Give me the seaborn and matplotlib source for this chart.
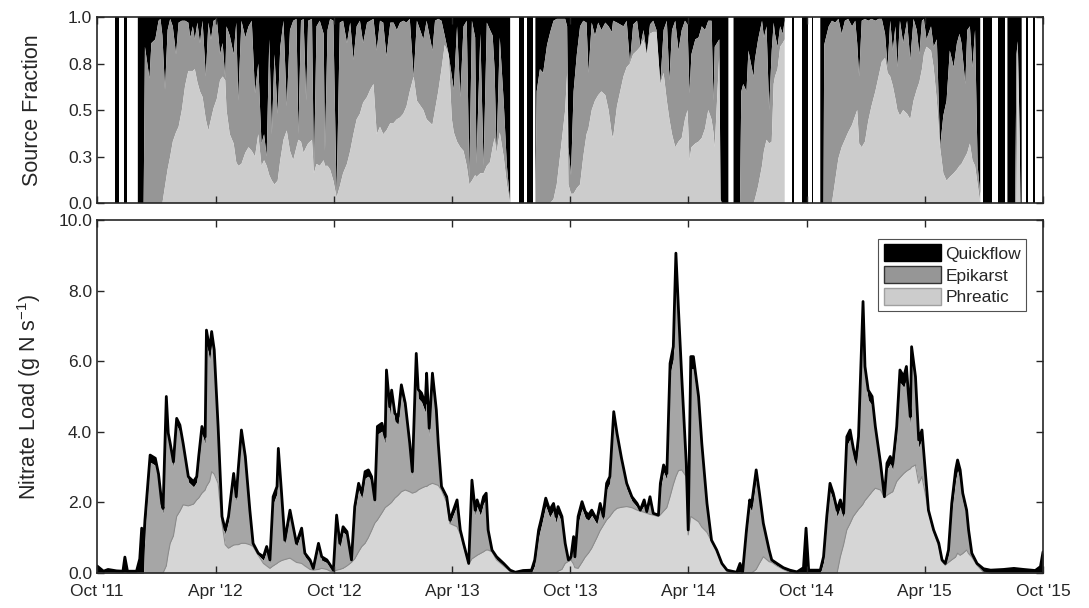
import numpy as np
import pandas as pd
import matplotlib
matplotlib.use("Agg")
import matplotlib.pyplot as plt
import matplotlib.dates as mdates
from matplotlib.patches import Patch
import seaborn as sns

NA = np.nan
START = pd.Timestamp("2011-10-01")
END = pd.Timestamp("2015-10-01")

# Bottom panel: nitrate load (g N s^-1); day = days since 1 Oct 2011.
load_day = [
    0, 10, 17, 30, 40, 43, 47, 61, 66, 69, 72, 74,
    82, 90, 95, 100, 102, 107, 110, 113, 118, 123, 128, 133,
    141, 149, 154, 157, 162, 167, 169, 174, 177, 181, 187, 193,
    198, 203, 211, 215, 218, 223, 229, 236, 241, 249, 257, 262,
    267, 272, 278, 280, 285, 290, 298, 304, 308, 316, 321, 329,
    334, 342, 347, 355, 360, 365, 370, 375, 380, 386, 393, 398,
    404, 409, 414, 419, 424, 429, 433, 440, 445, 447, 452, 455,
    460, 465, 470, 476, 483, 487, 493, 496, 501, 507, 509, 513,
    518, 524, 527, 532, 540, 545, 556, 561, 566, 574, 579, 584,
    587, 592, 597, 601, 604, 610, 617, 628, 638, 646, 658, 671,
    676, 682, 687, 693, 699, 705, 709, 712, 718, 723, 728, 732,
    736, 738, 743, 749, 754, 759, 764, 772, 777, 782, 787, 792,
    798, 803, 810, 818, 826, 834, 839, 845, 849, 854, 859, 867,
    870, 875, 880, 885, 890, 894, 898, 903, 910, 913, 917, 921,
    929, 934, 942, 949, 957, 965, 973, 988, 993, 997, 1003, 1008,
    1011, 1018, 1023, 1029, 1038, 1042, 1050, 1060, 1070, 1081, 1091, 1095,
    1099, 1106, 1117, 1122, 1127, 1132, 1137, 1143, 1148, 1153, 1158, 1163,
    1168, 1172, 1176, 1180, 1183, 1186, 1191, 1197, 1202, 1210, 1216, 1220,
    1225, 1229, 1235, 1240, 1246, 1250, 1253, 1256, 1258, 1264, 1269, 1274,
    1279, 1284, 1292, 1300, 1305, 1310, 1315, 1320, 1326, 1329, 1333, 1337,
    1343, 1346, 1351, 1359, 1369, 1380, 1400, 1416, 1431, 1449, 1457, 1461,
]
load_total = [
    0.20, 0.05, 0.10, 0.06, 0.05, 0.45, 0.05, 0.05, 0.40, 1.27, 0.90, 1.50,
    3.34, 3.25, 2.80, 1.97, 1.83, 5.00, 3.96, 3.67, 3.15, 4.38, 4.19, 3.67,
    2.73, 2.59, 2.73, 3.30, 4.15, 3.86, 6.88, 6.32, 6.84, 6.32, 4.15, 1.60,
    1.22, 1.60, 2.82, 2.16, 2.92, 4.05, 3.30, 1.78, 0.84, 0.56, 0.46, 0.75,
    0.37, 2.16, 2.45, 3.53, 2.26, 0.93, 1.78, 1.22, 0.84, 1.27, 0.56, 0.37,
    0.13, 0.84, 0.46, 0.37, 0.23, 0.08, 1.64, 0.84, 1.31, 1.17, 0.37, 1.88,
    2.54, 2.26, 2.87, 2.92, 2.73, 2.07, 4.15, 4.24, 3.86, 5.75, 4.71, 5.18,
    4.52, 4.43, 5.33, 4.81, 3.67, 2.87, 6.22, 5.20, 5.10, 4.80, 5.66, 4.10,
    5.66, 4.62, 3.67, 2.45, 2.16, 1.50, 2.07, 1.22, 0.84, 0.27, 2.63, 1.78,
    2.07, 1.78, 2.16, 2.26, 1.22, 0.65, 0.46, 0.27, 0.08, 0.02, 0.07, 0.08,
    0.37, 1.22, 1.60, 2.12, 1.78, 1.97, 1.60, 1.88, 1.60, 0.84, 0.37, 0.46,
    1.03, 0.46, 1.60, 2.02, 1.74, 1.64, 1.78, 1.50, 1.97, 1.60, 2.54, 2.73,
    4.57, 3.96, 3.25, 2.54, 2.16, 1.97, 1.78, 2.07, 1.74, 2.16, 1.69, 1.64,
    2.54, 3.06, 2.82, 5.94, 6.41, 9.06, 7.45, 5.56, 3.11, 1.22, 6.13, 6.13,
    5.00, 3.67, 1.97, 0.93, 0.65, 0.27, 0.08, 0.02, 0.27, 0.02, 1.22, 2.07,
    1.95, 2.92, 2.26, 1.41, 0.65, 0.37, 0.27, 0.15, 0.08, 0.03, 0.15, 1.27,
    0.08, 0.08, 0.08, 0.46, 1.60, 2.54, 2.26, 1.78, 2.07, 1.69, 3.86, 4.05,
    3.53, 3.20, 3.86, 6.03, 7.69, 5.85, 5.18, 5.00, 4.15, 3.11, 2.16, 3.11,
    3.30, 3.10, 4.15, 5.75, 5.56, 5.85, 5.09, 4.43, 6.41, 5.56, 3.77, 4.05,
    2.92, 1.78, 1.22, 0.84, 0.37, 0.27, 0.65, 1.97, 2.92, 3.20, 2.92, 2.26,
    1.78, 1.22, 0.56, 0.27, 0.12, 0.08, 0.10, 0.13, 0.10, 0.07, 0.18, 0.60,
]
load_phreatic = [
    0, 0, 0, 0, 0, 0, 0, 0, 0, 0, 0, 0,
    0, 0, 0, 0, 0, 0.20, 0.55, 0.84, 1.05, 1.60, 1.75, 1.93,
    1.90, 1.95, 2.07, 2.12, 2.26, 2.35, 2.45, 2.60, 2.87, 2.80, 2.54, 1.40,
    0.80, 0.70, 0.79, 0.80, 0.80, 0.84, 0.84, 0.80, 0.75, 0.50, 0.27, 0.20,
    0.13, 0.20, 0.27, 0.30, 0.35, 0.38, 0.42, 0.35, 0.30, 0.27, 0.20, 0.10,
    0.08, 0.10, 0.13, 0.10, 0.05, 0.04, 0.08, 0.10, 0.13, 0.20, 0.30, 0.40,
    0.60, 0.75, 0.84, 1.00, 1.20, 1.41, 1.50, 1.70, 1.85, 1.88, 1.95, 2.00,
    2.12, 2.20, 2.30, 2.35, 2.30, 2.26, 2.30, 2.35, 2.40, 2.45, 2.45, 2.50,
    2.54, 2.50, 2.48, 2.35, 2.00, 1.40, 1.31, 1.10, 0.78, 0.25, 0.40, 0.46,
    0.50, 0.55, 0.60, 0.65, 0.65, 0.60, 0.37, 0.20, 0.05, 0, 0, 0,
    0, 0, 0, 0, 0, 0, 0, 0.05, 0.10, 0.27, 0.33, 0.37,
    0.25, 0.15, 0.13, 0.30, 0.45, 0.56, 0.70, 1.00, 1.20, 1.35, 1.50, 1.60,
    1.75, 1.83, 1.86, 1.88, 1.85, 1.78, 1.75, 1.72, 1.69, 1.66, 1.64, 1.60,
    1.65, 1.75, 1.85, 2.16, 2.50, 2.73, 2.90, 2.92, 2.73, 1.08, 1.60, 1.55,
    1.45, 1.30, 1.15, 0.90, 0.62, 0.25, 0.05, 0, 0, 0, 0, 0,
    0, 0.10, 0.27, 0.46, 0.32, 0.30, 0.20, 0.10, 0.02, 0, 0, 0,
    0, 0, 0, 0, 0, 0, 0, 0, 0.46, 0.80, 1.22, 1.40,
    1.60, 1.70, 1.80, 1.88, 1.95, 2.05, 2.16, 2.30, 2.40, 2.35, 2.14, 2.20,
    2.26, 2.30, 2.59, 2.70, 2.82, 2.88, 2.92, 2.95, 3.00, 3.06, 2.54, 2.73,
    2.26, 1.74, 1.18, 0.75, 0.33, 0.22, 0.30, 0.37, 0.45, 0.56, 0.50, 0.55,
    0.65, 0.55, 0.45, 0.22, 0.02, 0, 0, 0, 0, 0, 0, 0,
]
load_quickflow = [
    0.20, 0.05, 0.10, 0.06, 0.05, 0.45, 0.05, 0.05, 0.40, 1.27, 0.90, 0.30,
    0.20, 0.20, 0.15, 0.15, 0.15, 0.25, 0.20, 0.20, 0.15, 0.20, 0.20, 0.20,
    0.15, 0.15, 0.15, 0.20, 0.20, 0.20, 0.35, 0.30, 0.35, 0.30, 0.20, 0.15,
    0.12, 0.12, 0.15, 0.15, 0.15, 0.20, 0.20, 0.12, 0.08, 0.06, 0.10, 0.12,
    0.10, 0.20, 0.20, 0.25, 0.20, 0.12, 0.15, 0.12, 0.10, 0.12, 0.10, 0.08,
    0.05, 0.12, 0.10, 0.08, 0.08, 0.04, 0.15, 0.12, 0.15, 0.12, 0.06, 0.15,
    0.18, 0.15, 0.18, 0.18, 0.15, 0.12, 0.22, 0.22, 0.20, 0.30, 0.25, 0.25,
    0.22, 0.22, 0.25, 0.25, 0.20, 0.15, 0.30, 0.25, 0.25, 0.25, 0.30, 0.22,
    0.30, 0.25, 0.20, 0.10, 0.12, 0.10, 0.15, 0.10, 0.06, 0.02, 0.20, 0.15,
    0.18, 0.15, 0.18, 0.18, 0.12, 0.05, 0.08, 0.07, 0.03, 0.02, 0.07, 0.08,
    0.15, 0.20, 0.20, 0.22, 0.20, 0.20, 0.18, 0.20, 0.18, 0.12, 0.04, 0.09,
    0.15, 0.12, 0.18, 0.20, 0.18, 0.15, 0.15, 0.12, 0.15, 0.12, 0.18, 0.18,
    0.22, 0.20, 0.18, 0.15, 0.12, 0.10, 0.03, 0.15, 0.05, 0.15, 0.05, 0.04,
    0.18, 0.20, 0.18, 0.30, 0.35, 0.45, 0.40, 0.30, 0.15, 0.10, 0.35, 0.35,
    0.30, 0.22, 0.15, 0.03, 0.03, 0.02, 0.03, 0.02, 0.27, 0.02, 0.15, 0.20,
    0.20, 0.25, 0.20, 0.15, 0.10, 0.05, 0.06, 0.05, 0.06, 0.03, 0.15, 1.27,
    0.08, 0.08, 0.08, 0.15, 0.18, 0.22, 0.20, 0.18, 0.20, 0.15, 0.25, 0.25,
    0.22, 0.20, 0.22, 0.35, 0.40, 0.30, 0.28, 0.25, 0.22, 0.15, 0.02, 0.18,
    0.20, 0.18, 0.25, 0.35, 0.30, 0.35, 0.30, 0.25, 0.35, 0.30, 0.22, 0.25,
    0.20, 0.04, 0.04, 0.09, 0.04, 0.05, 0.12, 0.22, 0.28, 0.30, 0.28, 0.22,
    0.18, 0.15, 0.08, 0.05, 0.10, 0.08, 0.10, 0.13, 0.10, 0.07, 0.18, 0.60,
]

# Top panel: source fractions (NA = no data, left white).
frac_day = [
    0, 27, 34.5, 38, 42, 46, 50, 63,
    72, 74, 81, 84, 90, 95, 98, 101,
    105, 109, 113, 117, 122, 126, 131, 136,
    141, 144, 148, 151, 155, 159, 163, 168,
    172, 176, 180, 185, 190, 194, 198, 200,
    205, 211, 215, 218, 223, 229, 234, 239,
    244, 249, 254, 258, 262, 266, 270, 274,
    279, 283, 288, 293, 298, 303, 308, 311,
    315, 319, 323, 326, 332, 335, 339, 344,
    350, 352, 356, 360, 365, 370, 375, 380,
    386, 391, 396, 401, 406, 411, 417, 422,
    427, 432, 437, 442, 447, 453, 458, 463,
    468, 473, 478, 483, 489, 494, 504, 509,
    518, 522, 527, 532, 537, 543, 548, 551,
    556, 561, 566, 571, 575, 579, 584, 586,
    592, 597, 602, 607, 611, 614, 617, 622,
    628, 633, 638, 640, 651, 660, 661, 664,
    674, 675, 677, 679, 684, 689, 695, 700,
    705, 710, 715, 723, 726, 728, 732, 736,
    741, 746, 751, 756, 759, 764, 769, 774,
    779, 785, 790, 795, 797, 803, 808, 813,
    818, 823, 828, 834, 839, 844, 849, 854,
    859, 864, 870, 875, 880, 884, 888, 893,
    898, 903, 908, 912, 915, 918, 924, 929,
    934, 939, 944, 949, 952, 954, 961, 963,
    965, 975, 976, 983, 993, 995, 998, 1003,
    1006, 1011, 1014, 1016, 1021, 1027, 1030, 1034,
    1038, 1042, 1045, 1047, 1051, 1055, 1059, 1062,
    1063, 1074, 1076, 1077, 1088, 1098, 1099, 1104,
    1106, 1107, 1117, 1122, 1123, 1130, 1135, 1140,
    1145, 1150, 1155, 1160, 1166, 1171, 1174, 1177,
    1181, 1186, 1191, 1196, 1202, 1207, 1212, 1217,
    1221, 1225, 1229, 1233, 1236, 1240, 1245, 1251,
    1256, 1261, 1266, 1270, 1274, 1277, 1281, 1288,
    1292, 1297, 1302, 1307, 1312, 1317, 1323, 1328,
    1332, 1335, 1341, 1344, 1348, 1352, 1356, 1360,
    1364, 1365, 1369, 1382, 1383, 1391, 1402, 1403,
    1406, 1418, 1420, 1422, 1425, 1426, 1428, 1429,
    1435, 1438, 1439, 1445, 1449, 1450, 1461,
]
frac_phreatic = [
    NA, 0, 0, NA, 0, 0, NA, 0,
    0, 0, 0, 0, 0, 0, 0, 0,
    0.09, 0.18, 0.25, 0.33, 0.38, 0.41, 0.50, 0.63,
    0.71, 0.71, 0.71, 0.72, 0.65, 0.60, 0.57, 0.45,
    0.39, 0.45, 0.51, 0.56, 0.66, 0.68, 0.66, 0.50,
    0.37, 0.32, 0.22, 0.20, 0.21, 0.27, 0.30, 0.28,
    0.25, 0.37, 0.20, 0.23, 0.20, 0.15, 0.12, 0.10,
    0.12, 0.23, 0.34, 0.39, 0.28, 0.23, 0.30, 0.34,
    0.33, 0.27, 0.30, 0.32, 0.34, 0.16, 0.21, 0.20,
    0.23, 0.20, 0.20, 0.18, 0.12, 0.03, 0.09, 0.16,
    0.21, 0.28, 0.37, 0.45, 0.48, 0.54, 0.57, 0.61,
    0.64, 0.37, 0.41, 0.37, 0.39, 0.43, 0.43, 0.45,
    0.46, 0.48, 0.52, 0.60, 0.68, 0.55, 0.50, 0.45,
    0.42, 0.50, 0.60, 0.72, 0.85, 0.80, 0.45, 0.38,
    0.33, 0.30, 0.28, 0.20, 0.10, 0.12, 0.15, 0.14,
    0.16, 0.16, 0.20, 0.22, 0.30, 0.35, 0.27, 0.38,
    0.25, 0.10, 0, NA, 0, 0, NA, 0,
    0, NA, 0, 0, 0, 0, 0, 0,
    0.02, 0.10, 0.25, 0.50, 0.70, 0.10, 0.05, 0.05,
    0.08, 0.10, 0.25, 0.37, 0.40, 0.50, 0.55, 0.58,
    0.60, 0.58, 0.50, 0.37, 0.35, 0.52, 0.60, 0.68,
    0.73, 0.75, 0.80, 0.82, 0.84, 0.88, 0.80, 0.91,
    0.92, 0.92, 0.64, 0.70, 0.55, 0.45, 0.37, 0.30,
    0.33, 0.35, 0.45, 0.50, 0.23, 0.30, 0.32, 0.33,
    0.35, 0.40, 0.50, 0.45, 0.38, 0.30, 0.80, 0,
    0, 0, NA, 0, 0, 0, 0, 0,
    0, 0, 0, 0.02, 0.09, 0.20, 0.28, 0.34,
    0.32, 0.33, 0.64, 0.68, 0.72, 0.84, 0.86, 0.88,
    NA, 0, 0, NA, 0, 0, NA, 0,
    0, NA, 0, 0, 0, 0, 0, 0.12,
    0.24, 0.30, 0.34, 0.38, 0.42, 0.47, 0.50, 0.32,
    0.30, 0.33, 0.44, 0.52, 0.60, 0.68, 0.76, 0.78,
    0.70, 0.68, 0.63, 0.56, 0.50, 0.47, 0.50, 0.48,
    0.45, 0.55, 0.61, 0.65, 0.72, 0.80, 0.84, 0.82,
    0.73, 0.55, 0.30, 0.16, 0.12, 0.14, 0.16, 0.18,
    0.20, 0.21, 0.25, 0.27, 0.32, 0.23, 0.20, 0.10,
    0, NA, 0, 0, NA, 0, 0, NA,
    0, 0, 0, 0.85, 0.30, 0, 0, NA,
    0, 0, NA, 0, 0, NA, NA,
]
frac_epikarst_top = [
    NA, 0, 0, NA, 0, 0, NA, 0,
    0, 0.84, 0.67, 0.86, 0.88, 0.98, 0.99, 0.90,
    0.61, 0.93, 0.99, 0.95, 0.80, 0.97, 0.98, 0.98,
    0.97, 0.89, 0.95, 0.88, 0.97, 0.86, 0.98, 0.68,
    0.97, 0.88, 0.98, 0.99, 0.80, 0.86, 0.67, 0.95,
    0.90, 0.80, 0.97, 0.55, 0.98, 0.89, 0.95, 0.98,
    0.59, 0.75, 0.32, 0.37, 0.25, 0.88, 0.37, 0.80,
    0.48, 0.84, 0.98, 0.52, 0.93, 0.98, 0.99, 0.37,
    0.98, 0.99, 0.55, 0.98, 0.99, 0.16, 0.95, 0.98,
    0.91, 0.28, 0.93, 0.99, 0.98, 0.03, 0.97, 0.98,
    0.86, 0.97, 0.77, 0.95, 0.98, 0.86, 0.97, 0.98,
    0.99, 0.82, 0.98, 0.97, 0.79, 0.97, 0.97, 0.93,
    0.97, 0.98, 0.97, 0.99, 0.68, 0.98, 0.88, 0.98,
    0.82, 0.98, 0.99, 0.98, 0.90, 0.80, 0.68, 0.61,
    0.95, 0.57, 0.95, 0.98, 0.14, 0.98, 0.89, 0.21,
    0.91, 0.20, 0.97, 0.93, 0.90, 0.72, 0.27, 0.89,
    0.55, 0.20, 0, NA, 0, 0, NA, 0,
    0, NA, 0, 0.60, 0.72, 0.70, 0.85, 0.92,
    0.98, 0.99, 0.99, 0.99, 0.95, 0.30, 0.15, 0.60,
    0.80, 0.95, 0.98, 0.97, 0.70, 0.97, 0.90, 0.97,
    0.93, 0.97, 0.95, 0.92, 0.98, 0.97, 0.96, 0.95,
    0.98, 0.75, 0.96, 0.98, 0.84, 0.93, 0.80, 0.96,
    0.98, 0.93, 0.64, 0.93, 0.98, 0.66, 0.93, 0.98,
    0.82, 0.93, 0.98, 0.96, 0.59, 0.80, 0.88, 0.89,
    0.95, 0.93, 0.98, 0.98, 0.55, 0.84, 0.88, 0.02,
    0, 0, NA, 0, 0, 0.60, 0.64, 0.60,
    0.82, 0.73, 0.68, 0.77, 0.88, 0.98, 0.89, 0.95,
    0.50, 0.82, 0.97, 0.91, 0.84, 0.95, 0.91, 0.98,
    NA, 0, 0, NA, 0, 0, NA, 0,
    0, NA, 0, 0, 0.85, 0.95, 0.98, 0.97,
    0.99, 0.91, 0.98, 0.99, 0.95, 0.98, 0.86, 0.68,
    0.98, 0.99, 0.98, 0.99, 0.98, 0.99, 0.99, 0.91,
    0.73, 0.98, 0.82, 0.95, 0.73, 0.98, 0.86, 0.98,
    0.77, 0.99, 0.93, 0.80, 0.98, 0.99, 0.88, 0.95,
    0.84, 0.88, 0.30, 0.47, 0.55, 0.82, 0.73, 0.86,
    0.91, 0.86, 0.64, 0.93, 0.95, 0.73, 0.93, 0.20,
    0.05, NA, 0, 0, NA, 0, 0, NA,
    0, 0, 0.80, 0.87, 0.35, 0, 0, NA,
    0, 0, NA, 0, 0, NA, NA,
]

frac_ticks = [0, 0.25, 0.5, 0.75, 1.0]
frac_tick_labels = ["0.0", "0.3", "0.5", "0.8", "1.0"]
load_ticks = [0, 2, 4, 6, 8, 10]
source_names = ["Quickflow", "Epikarst", "Phreatic"]


def to_dates(days):
    return (START + pd.to_timedelta(np.asarray(days, dtype=float), unit="D")).to_numpy()


def main() -> None:
    sns.set_theme(style="ticks")
    plt.rcParams["font.family"] = ["Liberation Sans", "DejaVu Sans"]
    plt.rcParams["mathtext.default"] = "regular"
    ink = "#262626"

    fig = plt.figure(figsize=(10.89, 6.08), dpi=100)
    ax_top = fig.add_axes([0.0891, 0.6661, 0.8687, 0.3059])
    ax_bot = fig.add_axes([0.0891, 0.0576, 0.8687, 0.5806])

    # Top panel: stacked source fractions, gaps left blank.
    fd = to_dates(frac_day)
    fp = np.array(frac_phreatic, dtype=float)
    fe = np.array(frac_epikarst_top, dtype=float)
    valid = ~np.isnan(fe)
    fp0 = np.nan_to_num(fp)
    fe0 = np.nan_to_num(fe)
    ax_top.fill_between(fd, fe0, 1.0, where=valid, color="black", lw=0)
    ax_top.fill_between(fd, fp0, fe0, where=valid, color="#969696", lw=0)
    ax_top.fill_between(fd, 0, fp0, where=valid, color="#cccccc", lw=0)
    ax_top.set_ylim(0, 1)
    ax_top.set_yticks(frac_ticks)
    ax_top.set_yticklabels(frac_tick_labels)
    ax_top.set_ylabel("Source Fraction", fontsize=15.5, color=ink)

    # Bottom panel: stacked nitrate load.
    ld = to_dates(load_day)
    total = np.array(load_total, dtype=float)
    phr = np.array(load_phreatic, dtype=float)
    quick = np.array(load_quickflow, dtype=float)
    epi_top = np.maximum(total - quick, phr)
    ax_bot.fill_between(ld, epi_top, total, color="black", lw=0)
    ax_bot.fill_between(ld, phr, epi_top, color="#a6a6a6", lw=0)
    ax_bot.fill_between(ld, 0, phr, color="#d6d6d6", lw=0)
    sns.lineplot(x=ld, y=phr, ax=ax_bot, color="#8c8c8c", lw=0.8)
    sns.lineplot(x=ld, y=total, ax=ax_bot, color="black", lw=2.0)
    ax_bot.set_ylim(0, 10)
    ax_bot.set_yticks(load_ticks)
    ax_bot.yaxis.set_major_formatter(matplotlib.ticker.FormatStrFormatter("%.1f"))
    ax_bot.set_ylabel("Nitrate Load (g N s$^{-1}$)", fontsize=15.5, color=ink)
    ax_bot.set_xlabel("")

    for ax in (ax_top, ax_bot):
        ax.set_xlim(START, END)
        ax.xaxis.set_major_locator(mdates.MonthLocator(bymonth=[4, 10]))
        ax.tick_params(direction="in", top=True, right=True, length=5, width=1.0,
                       colors=ink, labelsize=12.5)
        ax.set_axisbelow(False)
        ax.yaxis.set_label_coords(-0.057, 0.5)
        for s in ax.spines.values():
            s.set_linewidth(1.2)
            s.set_color(ink)
    ax_top.tick_params(labelbottom=False)
    ax_bot.tick_params(axis="x", pad=8)
    ax_bot.xaxis.set_major_formatter(mdates.DateFormatter("%b '%y"))

    handles = [
        Patch(facecolor="black", edgecolor="black", label=source_names[0]),
        Patch(facecolor="#969696", edgecolor="#333333", label=source_names[1]),
        Patch(facecolor="#cccccc", edgecolor="#a0a0a0", label=source_names[2]),
    ]
    leg = ax_bot.legend(handles=handles, loc="upper right", bbox_to_anchor=(0.982, 0.946),
                        frameon=True, fancybox=False, edgecolor=ink, fontsize=12.5,
                        handlelength=3.3, handleheight=1.15, labelspacing=0.25,
                        borderpad=0.3, handletextpad=0.25, borderaxespad=0)
    leg.get_frame().set_linewidth(0.8)

    fig.savefig("out.png", dpi=100)
    plt.close(fig)


if __name__ == "__main__":
    main()
